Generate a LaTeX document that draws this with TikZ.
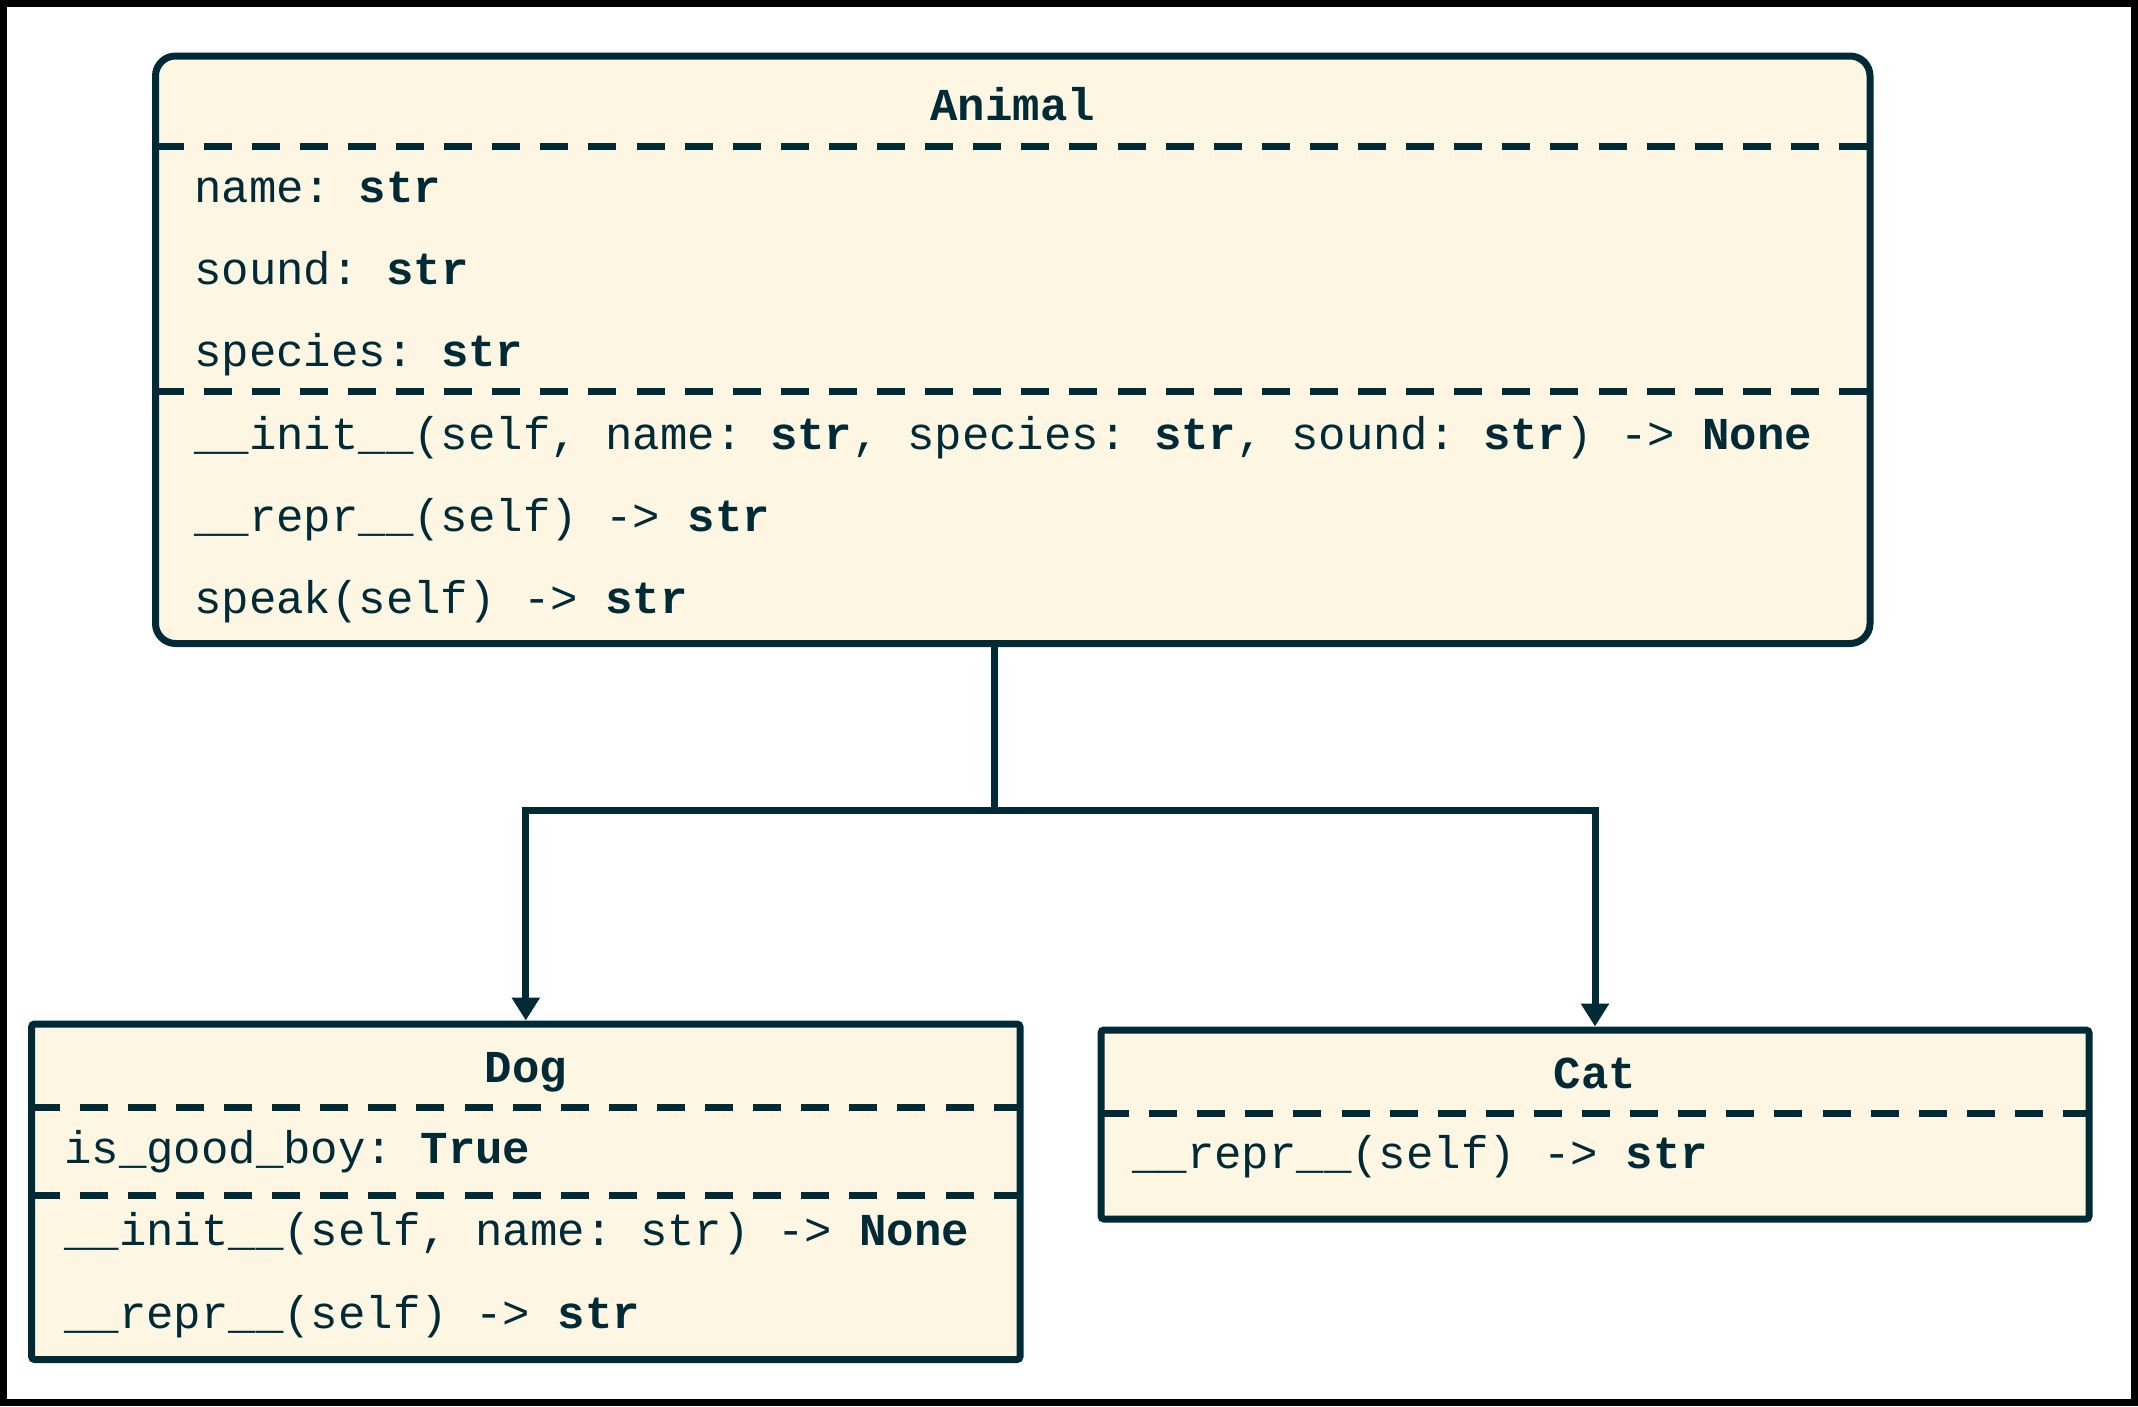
\documentclass[tikz,border=0pt]{standalone}
\usepackage{fontspec}
\newfontfamily\mono{Liberation Mono}
\usetikzlibrary{arrows.meta}
\definecolor{ink}{HTML}{002B36}
\definecolor{paper}{HTML}{FDF6E3}
\frenchspacing
\tikzset{
  classbox/.style={draw=ink, fill=paper, line width=7pt, inner sep=0pt, rectangle},
  sepline/.style={draw=ink, line width=7pt, dash pattern=on 28pt off 20.1pt},
  conn/.style={draw=ink, line width=7pt},
  tip/.style={-{Triangle[width=27pt,length=23pt]}},
  member/.style={anchor=base west, inner sep=0pt, text=ink, font=\mono\fontsize{45.7}{50}\selectfont\frenchspacing},
  title/.style={anchor=base, inner sep=0pt, text=ink, font=\mono\fontsize{45.7}{50}\selectfont\bfseries},
}
\begin{document}
\begin{tikzpicture}[x=1pt,y=-1pt]
\useasboundingbox (0,0) rectangle (2138,1406);
\draw[line width=7pt, draw=black, fill=white] (3.5,3.5) rectangle (2134.5,1402.5);

% class boxes
\node[classbox, rounded corners=20pt, minimum width=1714.5pt, minimum height=587.5pt] (Animal) at (1012.75,349.75) {};
\node[classbox, rounded corners=3pt, minimum width=988.4pt, minimum height=335.5pt] (Dog) at (525.8,1191.75) {};
\node[classbox, rounded corners=3pt, minimum width=988pt, minimum height=189pt] (Cat) at (1595,1124.5) {};

% separators
\draw[sepline] (155.5,146) -- (1870,146);
\draw[sepline] (155.5,391) -- (1870,391);
\draw[sepline] (31.6,1107) -- (1020,1107);
\draw[sepline] (31.6,1195) -- (1020,1195);
\draw[sepline] (1101,1113) -- (2089,1113);

% Animal texts
\node[title] (animalT) at (1012.75,120) {Animal};
\node[member] (a1) at (194,202) {name: \textbf{str}};
\node[member] (a2) at (194,284) {sound: \textbf{str}};
\node[member] (a3) at (194,366) {species: \textbf{str}};
\node[member] (a4) at (194,449) {\_\_init\_\_(self, name: \textbf{str}, species: \textbf{str}, sound: \textbf{str}) -> \textbf{None}};
\node[member] (a5) at (194,531) {\_\_repr\_\_(self) -> \textbf{str}};
\node[member] (a6) at (194,613) {speak(self) -> \textbf{str}};

% Dog texts
\node[title] (dogT) at (525.8,1082) {Dog};
\node[member] (d1) at (64,1163) {is\_good\_boy: \textbf{True}};
\node[member] (d2) at (64,1245) {\_\_init\_\_(self, name: str) -> \textbf{None}};
\node[member] (d3) at (64,1328) {\_\_repr\_\_(self) -> \textbf{str}};

% Cat texts
\node[title] (catT) at (1595,1088) {Cat};
\node[member] (c1) at (1132,1168) {\_\_repr\_\_(self) -> \textbf{str}};

% inheritance connectors
\coordinate (split) at (994,810);
\draw[conn, tip] (split |- Animal.south) -- (split) -| (Dog.north);
\draw[conn, tip] (split) -| (Cat.north);
\end{tikzpicture}
\end{document}
